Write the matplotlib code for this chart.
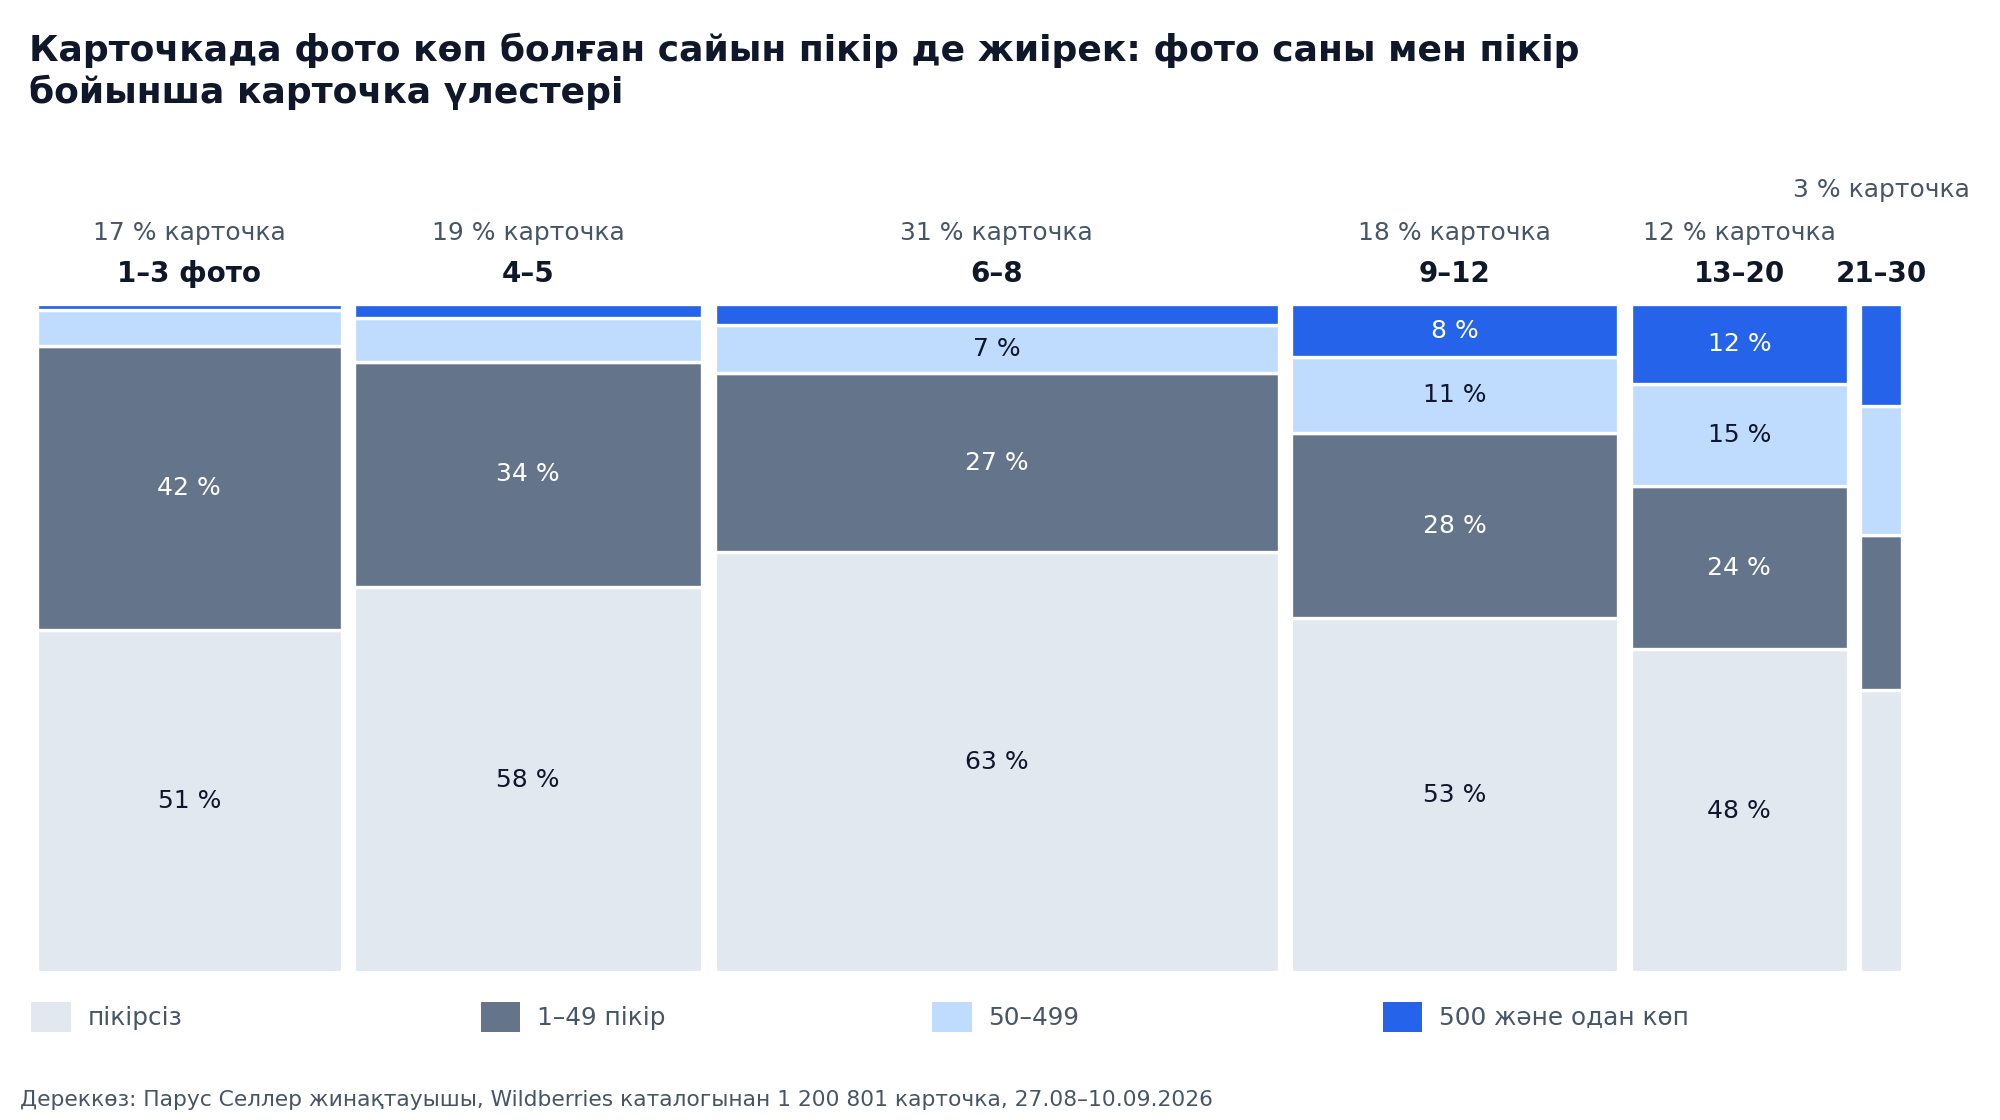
import matplotlib
matplotlib.use("Agg")
import matplotlib.pyplot as plt
import numpy as np

plt.rcParams['font.family'] = ['DejaVu Sans']

# ---- data ----
groups = ["1–3 фото", "4–5", "6–8", "9–12", "13–20", "21–30"]
card_share = [16.9, 19.2, 30.7, 18.1, 12.2, 2.9]          # % of cards per photo group (column width)
no_reviews = [51.3, 57.7, 62.9, 53.0, 48.4, 42.2]
reviews_1_49 = [42.4, 33.7, 26.8, 27.7, 24.4, 23.3]
reviews_50_499 = [5.4, 6.6, 7.2, 11.4, 15.3, 19.3]
reviews_500p = [0.9, 2.0, 3.1, 7.9, 11.9, 15.2]
series_labels = ["пікірсіз", "1–49 пікір", "50–499", "500 және одан көп"]

colors = ["#e2e8f0", "#64748b", "#bfdbfe", "#2563eb"]
label_colors = ["#0f172a", "white", "#0f172a", "white"]

W, H = 2000, 1120
fig = plt.figure(figsize=(W / 100, H / 100), dpi=100)

ax_left, ax_right = 37.0, 1902.0
ax_top, ax_bot = 304.3, 972.4
ax = fig.add_axes([ax_left / W, 1 - ax_bot / H, (ax_right - ax_left) / W, (ax_bot - ax_top) / H])

total_px = (ax_right - ax_left) + 12.7
gap = 12.7 / total_px * 100

shares = np.array(card_share)
lefts = np.concatenate([[0], np.cumsum(shares)[:-1]])
widths = shares - gap
centers = lefts + widths / 2

series = [no_reviews, reviews_1_49, reviews_50_499, reviews_500p]
bottom = np.zeros(len(groups))
containers = []
for s, vals in enumerate(series):
    vals = np.array(vals)
    bc = ax.bar(lefts, vals, width=widths, bottom=bottom, align='edge',
                color=colors[s], edgecolor='white', linewidth=2.4, label=series_labels[s])
    containers.append(bc)
    for i, v in enumerate(vals):
        if v >= 7 and shares[i] >= 5:
            ax.text(centers[i], bottom[i] + v / 2, f"{round(v)} %", ha='center', va='center',
                    fontsize=18, color=label_colors[s])
    bottom += vals

ax.set_xlim(0, 100 - gap)
ax.set_ylim(0, 100)
ax.axis('off')

# headers above columns
for i, g in enumerate(groups):
    ax.annotate(g, xy=(centers[i], 1), xycoords=('data', 'axes fraction'),
                xytext=(0, 21.6), textcoords='offset points', ha='center', va='center',
                fontsize=20, fontweight='bold', color='#0f172a')
    lift = 82 if shares[i] < 5 else 51.6
    ax.annotate(f"{round(shares[i])} % карточка", xy=(centers[i], 1), xycoords=('data', 'axes fraction'),
                xytext=(0, lift), textcoords='offset points', ha='center', va='center',
                fontsize=18, color='#475569')

# title
fig.text(29 / W, 1 - 33 / H,
         "Карточкада фото көп болған сайын пікір де жиірек: фото саны мен пікір\nбойынша карточка үлестері",
         ha='left', va='top', fontsize=26, fontweight='bold', color='#0f172a', linespacing=1.24)

# legend: four evenly spaced single-entry legends
leg_x = [31, 480.5, 932, 1382.5]
for k in range(4):
    fig.legend(handles=[containers[k].patches[0]], labels=[series_labels[k]],
               loc='center left', bbox_to_anchor=(leg_x[k] / W, 1 - 1017 / H),
               frameon=False, fontsize=17.8, labelcolor='#475569',
               handlelength=1.6, handleheight=1.5, handletextpad=0.68,
               borderpad=0, borderaxespad=0)
for lg in fig.legends:
    for h in lg.legend_handles:
        h.set_edgecolor('none')

fig.text(20.5 / W, 1 - 1100 / H,
         "Дереккөз: Парус Селлер жинақтауышы, Wildberries каталогынан 1 200 801 карточка, 27.08–10.09.2026",
         ha='left', va='center', fontsize=15.7, color='#475569')

fig.savefig("out.png", dpi=100, facecolor='white')
